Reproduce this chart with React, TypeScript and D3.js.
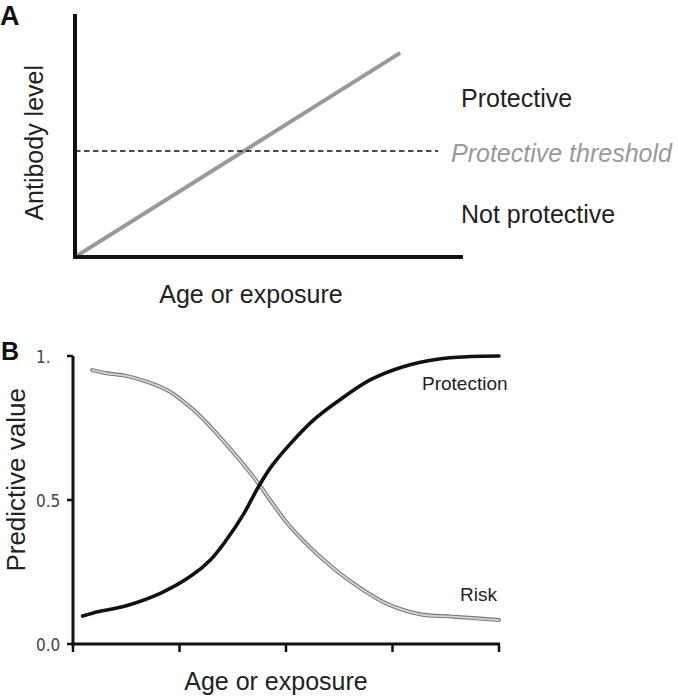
import React from "react";
import * as d3 from "d3";

// Panel A data
const antibodyX = [0, 0.838];
const antibodyY = [0, 0.84];
const thresholdLevel = 0.436;
const thresholdEnd = 0.936;

// Panel B data
const protectionX = [0.09, 0.19, 0.5, 0.82, 1.1, 1.29, 1.44, 1.6, 1.74, 1.87, 2.04, 2.26, 2.48, 2.79, 3.1, 3.42, 3.73, 4.0];
const protectionY = [0.097, 0.108, 0.133, 0.176, 0.234, 0.292, 0.361, 0.45, 0.545, 0.62, 0.695, 0.778, 0.841, 0.917, 0.963, 0.989, 0.998, 1.0];
const riskX = [0.18, 0.32, 0.5, 0.69, 0.91, 1.13, 1.32, 1.54, 1.74, 1.85, 2.04, 2.32, 2.63, 2.94, 3.26, 3.57, 4.0];
const riskY = [0.951, 0.94, 0.931, 0.911, 0.876, 0.813, 0.743, 0.65, 0.558, 0.5, 0.407, 0.303, 0.211, 0.141, 0.103, 0.095, 0.083];
const xTicksB = [0, 1, 2, 3, 4];
const yTicksB = [0, 0.5, 1];
const yTickLabelsB = ["0.0", "0.5", "1."];

const FONT = "'Liberation Sans', Arial, Helvetica, sans-serif";
const NARROW = "'Liberation Sans Narrow', 'DejaVu Sans Condensed', 'Liberation Sans', sans-serif";

export default function App() {
  // Panel A scales
  const xA = d3.scaleLinear().domain([0, 1]).range([75, 463]);
  const yA = d3.scaleLinear().domain([0, 1]).range([257, 14]);
  const lineA = d3.line<number>().x((d, i) => xA(antibodyX[i])).y((d) => yA(d));

  // Panel B scales
  const xB = d3.scaleLinear().domain([0, 4]).range([73, 499]);
  const yB = d3.scaleLinear().domain([0, 1]).range([644, 356]);
  const protLine = d3
    .line<number>()
    .x((d, i) => xB(protectionX[i]))
    .y((d) => yB(d))
    .curve(d3.curveCatmullRom.alpha(0.5));
  const riskLine = d3
    .line<number>()
    .x((d, i) => xB(riskX[i]))
    .y((d) => yB(d))
    .curve(d3.curveCatmullRom.alpha(0.5));

  return (
    <svg
      width={678}
      height={700}
      style={{ position: "absolute", left: 0, top: 0, background: "#fff" }}
      fontFamily={FONT}
    >
      {/* Panel A */}
      <text x={0} y={25} fontSize={27} fontWeight="bold" fill="#111">A</text>
      <path d={lineA(antibodyY) || ""} stroke="#999" strokeWidth={4} fill="none" />
      <line
        x1={xA(0)}
        x2={xA(thresholdEnd)}
        y1={yA(thresholdLevel)}
        y2={yA(thresholdLevel)}
        stroke="#111"
        strokeWidth={1.4}
        strokeDasharray="5.5,3.5"
      />
      <line x1={xA(0)} x2={xA(0)} y1={yA(1)} y2={yA(0) + 2} stroke="#111" strokeWidth={4} />
      <line x1={xA(0) - 2} x2={xA(1)} y1={yA(0)} y2={yA(0)} stroke="#111" strokeWidth={4} />
      <text
        transform={`translate(43,${yA(0.47)}) rotate(-90)`}
        textAnchor="middle"
        fontSize={25}
        fill="#222"
      >
        Antibody level
      </text>
      <text x={251} y={303} textAnchor="middle" fontSize={25} fill="#222">Age or exposure</text>
      <text x={461} y={107} fontSize={25} fill="#222">Protective</text>
      <text x={451} y={162} fontSize={25} fill="#999" fontStyle="italic">Protective threshold</text>
      <text x={461} y={223} fontSize={25} fill="#222">Not protective</text>

      {/* Panel B */}
      <text x={1} y={360} fontSize={25} fontWeight="bold" fill="#111">B</text>
      <path d={riskLine(riskY) || ""} stroke="#7a7a7a" strokeWidth={4} fill="none" strokeLinecap="round" />
      <path d={riskLine(riskY) || ""} stroke="#d4d4d4" strokeWidth={1.8} fill="none" strokeLinecap="round" />
      <path d={protLine(protectionY) || ""} stroke="#111" strokeWidth={3.6} fill="none" strokeLinecap="round" />

      <line x1={xB(0)} x2={xB(0)} y1={yB(1)} y2={yB(0) + 1.5} stroke="#111" strokeWidth={3} />
      <line x1={xB(0) - 1.5} x2={xB(4) + 1} y1={yB(0)} y2={yB(0)} stroke="#111" strokeWidth={3} />
      {xTicksB.map((t) => (
        <line key={"xt" + t} x1={xB(t)} x2={xB(t)} y1={yB(0)} y2={yB(0) + 8} stroke="#111" strokeWidth={2.5} />
      ))}
      {yTicksB.map((t, i) => (
        <g key={"yt" + t}>
          <line x1={xB(0) - 6} x2={xB(0)} y1={yB(t)} y2={yB(t)} stroke="#111" strokeWidth={2.5} />
          <text
            x={36}
            y={yB(t) + 2}
            dominantBaseline="middle"
            fontSize={17}
            fontFamily={NARROW}
            fill="#444"
          >
            {yTickLabelsB[i]}
          </text>
        </g>
      ))}
      <text
        transform={`translate(25,${yB(0.57)}) rotate(-90)`}
        textAnchor="middle"
        fontSize={26}
        fill="#222"
      >
        Predictive value
      </text>
      <text x={276} y={690} textAnchor="middle" fontSize={25} fill="#222">Age or exposure</text>
      <text x={422} y={390} fontSize={19} fill="#222">Protection</text>
      <text x={460} y={601} fontSize={19} fill="#222">Risk</text>
    </svg>
  );
}
